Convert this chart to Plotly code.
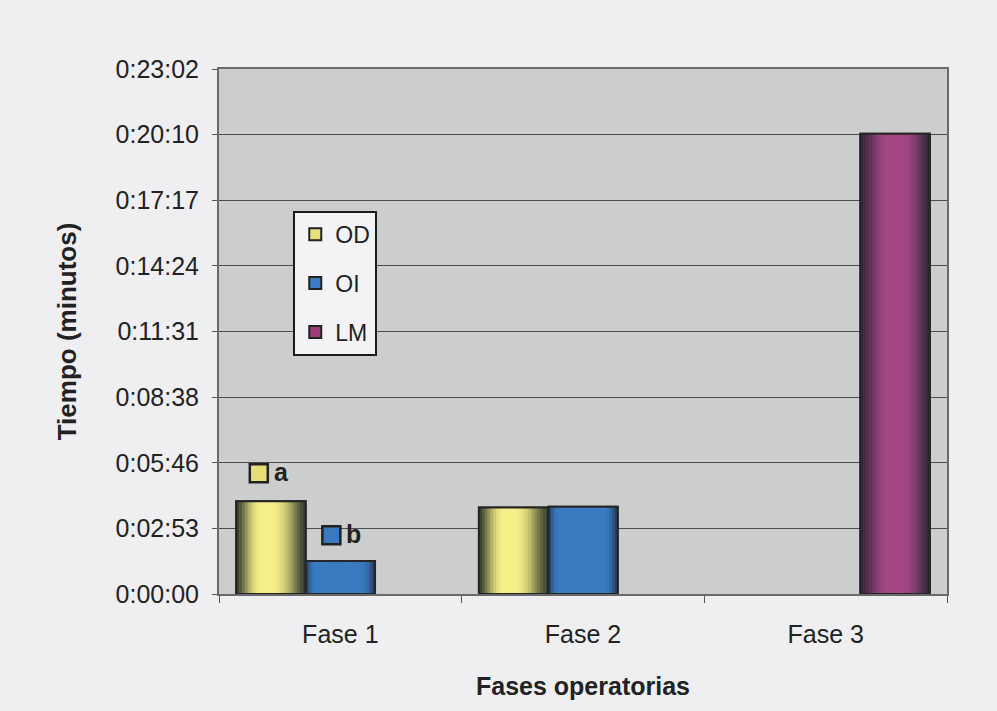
import plotly.graph_objects as go

# ---- data (seconds) ----
categories = ["Fase 1", "Fase 2", "Fase 3"]
series_names = ["OD", "OI", "LM"]
od_values = [244, 228, None]
oi_values = [87, 230, None]
lm_values = [None, None, 1212]
ytick_seconds = [0, 172.8, 345.6, 518.4, 691.2, 864.0, 1036.8, 1209.6, 1382.4]
ytick_labels = ["0:00:00", "0:02:53", "0:05:46", "0:08:38", "0:11:31",
                "0:14:24", "0:17:17", "0:20:10", "0:23:02"]
marker_labels = ["a", "b"]

values = [od_values, oi_values, lm_values]
dark_cols = [(52, 62, 44), (35, 48, 76), (48, 38, 56)]
bright_cols = [(246, 238, 136), (58, 122, 192), (162, 72, 132)]
plateaus = [(0.36, 0.52), (0.14, 0.80), (0.42, 0.60)]
powers = [1.6, 1.1, 1.5]
flat_cols = ["#e9e27c", "#3b7cc2", "#9c3f78"]

W = 0.286
offsets = [-0.429, -0.143, 0.143]
K = 24


def shade(t, dark, bright, plat, pw):
    p0, p1 = plat
    if t < p0:
        f = 1 - ((p0 - t) / p0) ** 2
    elif t > p1:
        f = 1 - ((t - p1) / (1 - p1)) ** 2
    else:
        f = 1.0
    f = max(0.0, f) ** pw
    c = [round(d + (b - d) * f) for d, b in zip(dark, bright)]
    return "rgb(%d,%d,%d)" % tuple(c)


fig = go.Figure()
font = "Liberation Sans, Arial, sans-serif"

# base bars (legend)
for i, name in enumerate(series_names):
    fig.add_trace(go.Bar(
        x=categories, y=values[i], name=name, legendgroup=name,
        offset=offsets[i], width=W,
        marker=dict(color=flat_cols[i], line=dict(color="#222", width=2)),
        showlegend=True,
    ))
# gradient strips
for i, name in enumerate(series_names):
    for k in range(K):
        t = (k + 0.5) / K
        fig.add_trace(go.Bar(
            x=categories, y=values[i], legendgroup=name, showlegend=False,
            offset=offsets[i] + k * W / K, width=W / K * 1.1,
            marker=dict(color=shade(t, dark_cols[i], bright_cols[i], plateaus[i], powers[i]),
                        line=dict(width=0)),
            hoverinfo="skip",
        ))
# outlines
for i, name in enumerate(series_names):
    fig.add_trace(go.Bar(
        x=categories, y=values[i], legendgroup=name, showlegend=False,
        offset=offsets[i], width=W,
        marker=dict(color="rgba(0,0,0,0)", line=dict(color="#262626", width=2)),
        hoverinfo="skip",
    ))

# small labelled markers a / b
mark_pos = [(-0.336, 318), (-0.037, 155)]
mark_cols = ["#e6df78", "#3a78bf"]
for (mx, my), lab, col in zip(mark_pos, marker_labels, mark_cols):
    fig.add_shape(type="rect", xref="x", yref="y", xsizemode="pixel", ysizemode="pixel",
                  xanchor=mx, yanchor=my, x0=-9, x1=9, y0=-9, y1=9,
                  fillcolor=col, line=dict(color="#222", width=2.5), layer="above")
    fig.add_annotation(x=mx, y=my, xref="x", yref="y", text="<b>%s</b>" % lab,
                       showarrow=False, xanchor="left", yanchor="middle",
                       xshift=13, yshift=1,
                       font=dict(family=font, size=25, color="#222"))

fig.update_layout(
    width=997, height=711,
    margin=dict(l=219, r=50, t=69, b=117),
    paper_bgcolor="#efeff2",
    plot_bgcolor="#cccecd",
    barmode="overlay",
    font=dict(family=font, size=25, color="#222"),
    showlegend=True,
    legend=dict(
        x=0.102, y=0.73, xanchor="left", yanchor="top",
        bgcolor="#f3f3f5", bordercolor="#1a1a1a", borderwidth=2,
        font=dict(family=font, size=23, color="#222"),
        traceorder="grouped", tracegroupgap=16,
    ),
    xaxis=dict(
        type="category", categoryorder="array", categoryarray=categories,
        range=[-0.5, 2.5], tickson="boundaries", ticks="outside", ticklen=7,
        tickcolor="#555", showgrid=False, showline=True, linecolor="#6a6a6a",
        linewidth=2, mirror=True, ticklabelstandoff=17,
        tickfont=dict(family=font, size=25, color="#222"),
        title=dict(text="<b>Fases operatorias</b>", standoff=30,
                   font=dict(family=font, size=25, color="#222")),
    ),
    yaxis=dict(
        range=[0, 1382.4], tickvals=ytick_seconds, ticktext=ytick_labels,
        showgrid=True, gridcolor="#4d4d4d", gridwidth=1,
        ticks="outside", ticklen=5, tickcolor="#555",
        showline=True, linecolor="#6a6a6a", linewidth=2, mirror=True,
        ticklabelstandoff=8, zeroline=False,
        tickfont=dict(family=font, size=25, color="#222"),
        title=dict(text="<b>Tiempo (minutos)</b>", standoff=31,
                   font=dict(family=font, size=26, color="#222")),
    ),
)

fig.write_html("out.html")
